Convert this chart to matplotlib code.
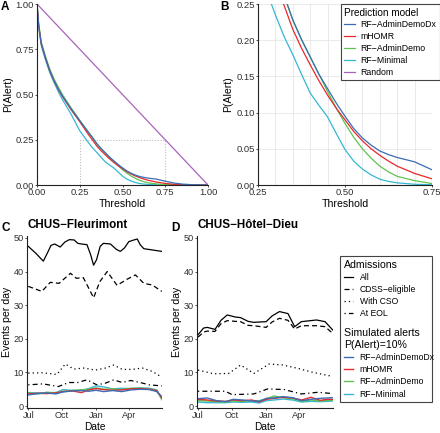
import numpy as np
import matplotlib
matplotlib.use('Agg')
import matplotlib.pyplot as plt
import matplotlib.dates as mdates
from matplotlib.lines import Line2D
from matplotlib.patches import Rectangle

plt.rcParams['font.family'] = ['Liberation Sans', 'DejaVu Sans']

# ---- panel A/B data: P(Alert) vs threshold
thr = [0, 0.01, 0.025, 0.05, 0.075, 0.1, 0.125, 0.15, 0.2, 0.25, 0.3, 0.325, 0.35, 0.375,
       0.4, 0.425, 0.45, 0.475, 0.5, 0.525, 0.55, 0.575, 0.6, 0.625, 0.65, 0.7, 0.75,
       0.8, 0.85, 0.9, 0.95, 1.0]
p_dx = [1.0, 0.88, 0.78, 0.70, 0.63, 0.575, 0.53, 0.49, 0.42, 0.355, 0.292, 0.262, 0.228, 0.201,
        0.177, 0.153, 0.133, 0.113, 0.095, 0.078, 0.065, 0.055, 0.047, 0.042, 0.038, 0.032, 0.021,
        0.011, 0.005, 0.002, 0.0005, 0.0]
p_mhomr = [1.0, 0.88, 0.78, 0.70, 0.63, 0.575, 0.528, 0.487, 0.415, 0.35, 0.28, 0.248, 0.215, 0.189,
           0.166, 0.144, 0.124, 0.106, 0.090, 0.074, 0.061, 0.050, 0.041, 0.033, 0.026, 0.016, 0.0085,
           0.004, 0.0015, 0.0005, 0.0001, 0.0]
p_demo = [1.0, 0.89, 0.79, 0.71, 0.64, 0.585, 0.54, 0.497, 0.425, 0.358, 0.292, 0.262, 0.228, 0.201,
          0.177, 0.153, 0.129, 0.106, 0.085, 0.066, 0.050, 0.037, 0.026, 0.018, 0.012, 0.006, 0.002,
          0.0008, 0.0002, 0.0, 0.0, 0.0]
p_min = [1.0, 0.87, 0.77, 0.69, 0.62, 0.565, 0.515, 0.47, 0.39, 0.30, 0.235, 0.205, 0.18, 0.153,
         0.127, 0.110, 0.094, 0.071, 0.049, 0.033, 0.022, 0.014, 0.008, 0.005, 0.003, 0.001, 0.0003,
         0.0, 0.0, 0.0, 0.0, 0.0]
rand_thr = [0, 1]
rand_p = [1, 0]

models = ['RF\u2212AdminDemoDx', 'mHOMR', 'RF\u2212AdminDemo', 'RF\u2212Minimal', 'Random']
colors = ['#3b6cb5', '#e8282e', '#5ec450', '#35b8d3', '#a864bb']

zoom_x = (0.25, 0.75)
zoom_y = 0.25

# ---- panel C/D data: events per day (days since Jul 1)
c_all_days = [0, 20, 41, 52, 62, 72, 87, 100, 112, 125, 135, 145, 160, 170, 178, 186, 196, 205,
              224, 240, 251, 262, 274, 285, 297, 305, 315, 340, 364]
c_all = [47.5, 45.5, 43.1, 45.5, 47.8, 48.2, 47.3, 48.8, 49.5, 49.4, 48.4, 48.2, 48.0, 45.0, 41.9,
         43.5, 47.5, 48.4, 48.2, 46.6, 46.0, 47.0, 48.9, 49.3, 49.7, 48.0, 46.8, 46.4, 46.0]
c_cdss_days = [0, 37, 60, 84, 115, 131, 150, 165, 178, 195, 215, 242, 269, 292, 315, 338, 364]
c_cdss = [35.6, 34.1, 36.8, 36.5, 39.5, 38.0, 38.2, 35.0, 32.2, 37.0, 40.0, 35.9, 37.7, 39.0,
          36.5, 36.0, 34.1]
c_cso_days = [0, 40, 78, 101, 124, 151, 183, 210, 233, 256, 283, 311, 338, 364]
c_cso = [9.8, 9.9, 9.4, 12.5, 11.0, 11.3, 10.7, 11.3, 12.2, 10.9, 10.9, 11.3, 10.3, 8.6]
c_eol_days = [0, 40, 82, 110, 135, 160, 187, 210, 233, 256, 279, 305, 330, 364]
c_eol = [6.3, 6.6, 5.8, 7.0, 7.0, 7.8, 6.3, 6.8, 7.8, 7.0, 7.6, 7.0, 6.3, 6.0]

d_all_days = [0, 15, 25, 46, 62, 79, 100, 115, 135, 150, 184, 200, 220, 243, 261, 279, 320, 343, 364]
d_all = [21.2, 23.2, 23.4, 22.8, 25.5, 27.1, 26.5, 26.3, 25.2, 24.9, 25.1, 26.8, 28.1, 27.5, 23.6,
         25.1, 25.6, 25.1, 22.6]
d_cdss = [20.5, 22.0, 22.3, 22.2, 24.5, 25.4, 25.2, 25.1, 24.0, 23.9, 23.4, 25.0, 26.1, 25.5, 22.9,
          23.9, 23.9, 23.6, 21.6]
d_cso_days = [0, 42, 83, 115, 151, 192, 229, 270, 311, 364]
d_cso = [10.7, 9.6, 9.7, 12.2, 9.7, 12.5, 12.2, 11.2, 10.0, 8.8]
d_eol_days = [0, 42, 74, 92, 151, 188, 233, 279, 324, 364]
d_eol = [4.4, 4.4, 4.4, 3.4, 3.6, 5.1, 4.9, 3.6, 4.1, 3.7]

alert_days = [0, 25, 50, 75, 95, 120, 145, 165, 185, 205, 230, 255, 280, 305, 330, 350, 364]
c_alert_dx = [3.3, 3.7, 3.9, 3.6, 4.2, 4.5, 4.6, 4.4, 4.7, 4.3, 4.6, 4.3, 4.8, 5.0, 4.9, 4.3, 2.8]
c_alert_mhomr = [3.6, 3.8, 3.7, 3.9, 4.3, 4.5, 4.0, 4.8, 5.2, 4.9, 4.7, 4.8, 5.1, 5.2, 5.0, 4.6, 2.4]
c_alert_demo = [3.9, 3.6, 4.1, 3.9, 4.4, 4.7, 4.8, 5.0, 5.4, 5.0, 5.1, 4.9, 5.3, 5.3, 5.1, 4.7, 1.9]
c_alert_min = [4.0, 3.9, 4.0, 4.0, 4.9, 4.6, 4.7, 5.2, 6.0, 5.7, 5.1, 5.3, 5.2, 5.4, 5.3, 4.8, 2.3]
d_alert_dx = [2.2, 2.4, 1.6, 1.3, 2.0, 1.8, 1.5, 1.4, 2.3, 2.4, 2.8, 2.5, 1.6, 2.0, 2.3, 2.4, 2.5]
d_alert_mhomr = [2.0, 1.8, 1.5, 1.4, 1.8, 1.6, 1.8, 1.2, 2.0, 2.3, 2.6, 2.4, 1.8, 2.6, 1.7, 2.0, 2.0]
d_alert_demo = [1.6, 1.5, 1.3, 1.2, 1.5, 1.4, 1.6, 1.6, 2.1, 3.0, 2.5, 2.2, 1.4, 1.8, 1.5, 1.7, 1.7]
d_alert_min = [1.2, 1.0, 1.0, 1.0, 1.2, 1.1, 1.2, 0.9, 1.6, 1.8, 2.1, 1.8, 1.2, 1.4, 1.3, 1.4, 1.5]

adm_labels = ['All', 'CDSS\u2212eligible', 'With CSO', 'At EOL']
adm_styles = ['-', (0, (4, 2.5)), (0, (1, 2.5)), (0, (1, 2.5, 4, 2.5))]

W, H = 440, 433
fig = plt.figure(figsize=(W / 100, H / 100), dpi=100)


def box(l, t, r, b):
    return [l / W, 1 - b / H, (r - l) / W, (b - t) / H]


def style_axes(ax, size=6.8):
    for s in ['top', 'right']:
        ax.spines[s].set_visible(False)
    for s in ['left', 'bottom']:
        ax.spines[s].set_color('#222222')
        ax.spines[s].set_linewidth(0.8)
    ax.tick_params(length=1.5, width=0.6, color='#333333', labelsize=size,
                   labelcolor='#303030', pad=0.7)


curves = [p_dx, p_mhomr, p_demo, p_min]
draw_order = [3, 2, 1, 0]

# ---- A
ax_a = fig.add_axes(box(37, 4, 208, 185))
style_axes(ax_a)
ax_a.plot([zoom_x[0], zoom_x[0], zoom_x[1], zoom_x[1]], [0, zoom_y, zoom_y, 0],
          color='#bbbbbb', lw=0.8, ls=(0, (1, 1.5)))
ax_a.plot(rand_thr, rand_p, color=colors[4], lw=0.9)
for i in draw_order:
    ax_a.plot(thr, curves[i], color=colors[i], lw=0.9)
ax_a.set_xlim(0, 1)
ax_a.set_ylim(0, 1)
ax_a.set_xticks([0, 0.25, 0.5, 0.75, 1.0])
ax_a.set_yticks([0, 0.25, 0.5, 0.75, 1.0])
ax_a.xaxis.set_major_formatter(plt.FormatStrFormatter('%.2f'))
ax_a.yaxis.set_major_formatter(plt.FormatStrFormatter('%.2f'))
ax_a.set_xlabel('Threshold', fontsize=7.6)
ax_a.set_ylabel('P(Alert)', fontsize=7.6)
ax_a.xaxis.set_label_coords(0.5, -0.078)
ax_a.yaxis.set_label_coords(-0.14, 0.5)

# ---- B
ax_b = fig.add_axes(box(258, 4, 432, 185))
style_axes(ax_b)
for g in np.arange(0.30, 0.751, 0.05):
    ax_b.axvline(g, color='#e6e6e6', lw=0.6, zorder=0)
for g in np.arange(0.05, 0.251, 0.05):
    ax_b.axhline(g, color='#e6e6e6', lw=0.6, zorder=0)
handles = [None] * 5
handles[4], = ax_b.plot(rand_thr, rand_p, color=colors[4], lw=0.9)
for i in draw_order:
    handles[i], = ax_b.plot(thr, curves[i], color=colors[i], lw=0.9)
ax_b.set_xlim(*zoom_x)
ax_b.set_ylim(0, zoom_y)
ax_b.set_xticks([0.25, 0.5, 0.75])
ax_b.set_yticks(np.arange(0, 0.251, 0.05))
ax_b.xaxis.set_major_formatter(plt.FormatStrFormatter('%.2f'))
ax_b.yaxis.set_major_formatter(plt.FormatStrFormatter('%.2f'))
ax_b.set_xlabel('Threshold', fontsize=7.6)
ax_b.set_ylabel('P(Alert)', fontsize=7.6)
ax_b.xaxis.set_label_coords(0.5, -0.078)
ax_b.yaxis.set_label_coords(-0.144, 0.5)
leg = fig.legend(handles, models, title='Prediction model', loc='upper right',
                 bbox_to_anchor=(439.5 / W, 1 - 4 / H), fontsize=6.3, title_fontsize=7.2,
                 alignment='left', handlelength=1.2, handletextpad=0.6, labelspacing=0.33,
                 borderpad=0.4, borderaxespad=0, fancybox=False, framealpha=1)
leg.get_frame().set_edgecolor('#444444')
leg.get_frame().set_linewidth(0.8)

# ---- C and D
base = mdates.date2num(np.datetime64('2017-07-01'))


def dates(days):
    return base + np.array(days, dtype=float)


def ts_panel(ax, adm, alerts, xlim, title):
    style_axes(ax, size=6.6)
    for (dd, vv), ls in zip(adm, adm_styles):
        ax.plot(dates(dd), vv, color='black', ls=ls, lw=0.9)
    for i in draw_order:
        ax.plot(dates(alert_days), alerts[i], color=colors[i], lw=1.0)
    ax.set_ylim(-0.58, 50.58)
    ax.set_yticks([0, 10, 20, 30, 40, 50])
    ax.set_xlim(base + xlim[0], base + xlim[1])
    ax.xaxis.set_major_locator(mdates.MonthLocator(bymonth=[1, 4, 7, 10]))
    ax.xaxis.set_major_formatter(mdates.DateFormatter('%b'))
    ax.set_xlabel('Date', fontsize=7.3)
    ax.set_ylabel('Events per day', fontsize=7.6)
    ax.xaxis.set_label_coords(0.5, -0.08)
    ax.yaxis.set_label_coords(-0.11, 0.5)
    ax.set_title(title, loc='left', fontsize=8.4, weight='bold', pad=6)


ax_c = fig.add_axes(box(27, 236, 162, 408))
ts_panel(ax_c, [(c_all_days, c_all), (c_cdss_days, c_cdss), (c_cso_days, c_cso),
                (c_eol_days, c_eol)],
         [c_alert_dx, c_alert_mhomr, c_alert_demo, c_alert_min], (-3.5, 364.5),
         'CHUS\u2212Fleurimont')
ax_d = fig.add_axes(box(197, 236, 333, 408))
ts_panel(ax_d, [(d_all_days, d_all), (d_all_days, d_cdss), (d_cso_days, d_cso),
                (d_eol_days, d_eol)],
         [d_alert_dx, d_alert_mhomr, d_alert_demo, d_alert_min], (-2.7, 364.5),
         'CHUS\u2212H\u00f4tel\u2212Dieu')

# legend box for C/D
fig.patches.append(Rectangle((340 / W, 1 - 402 / H), 92 / W, 146 / H, transform=fig.transFigure,
                             fill=False, edgecolor='#444444', lw=0.8))
adm_handles = [Line2D([], [], color='black', ls=ls, lw=0.9) for ls in adm_styles]
fig.legend(adm_handles, adm_labels, title='Admissions', loc='upper left',
           bbox_to_anchor=(344 / W, 1 - 260 / H), frameon=False, fontsize=6.2,
           title_fontsize=7.6, alignment='left', handlelength=1.1, handletextpad=0.7,
           labelspacing=0.36, borderpad=0, borderaxespad=0)
alert_handles = [Line2D([], [], color=c, lw=1.0) for c in colors[:4]]
fig.legend(alert_handles, models[:4], title='Simulated alerts\nP(Alert)=10%', loc='upper left',
           bbox_to_anchor=(344 / W, 1 - 328 / H), frameon=False, fontsize=6.2,
           title_fontsize=7.6, alignment='left', handlelength=1.1, handletextpad=0.7,
           labelspacing=0.38, borderpad=0, borderaxespad=0)

# panel tags
fig.text(1 / W, 1 - 1 / H, 'A', fontsize=8.5, weight='bold', va='top', ha='left')
fig.text(220 / W, 1 - 1 / H, 'B', fontsize=8.5, weight='bold', va='top', ha='left')
fig.text(1 / W, 1 - 222 / H, 'C', fontsize=8.5, weight='bold', va='top', ha='left')
fig.text(171 / W, 1 - 222 / H, 'D', fontsize=8.5, weight='bold', va='top', ha='left')

fig.savefig('out.png', dpi=100)
